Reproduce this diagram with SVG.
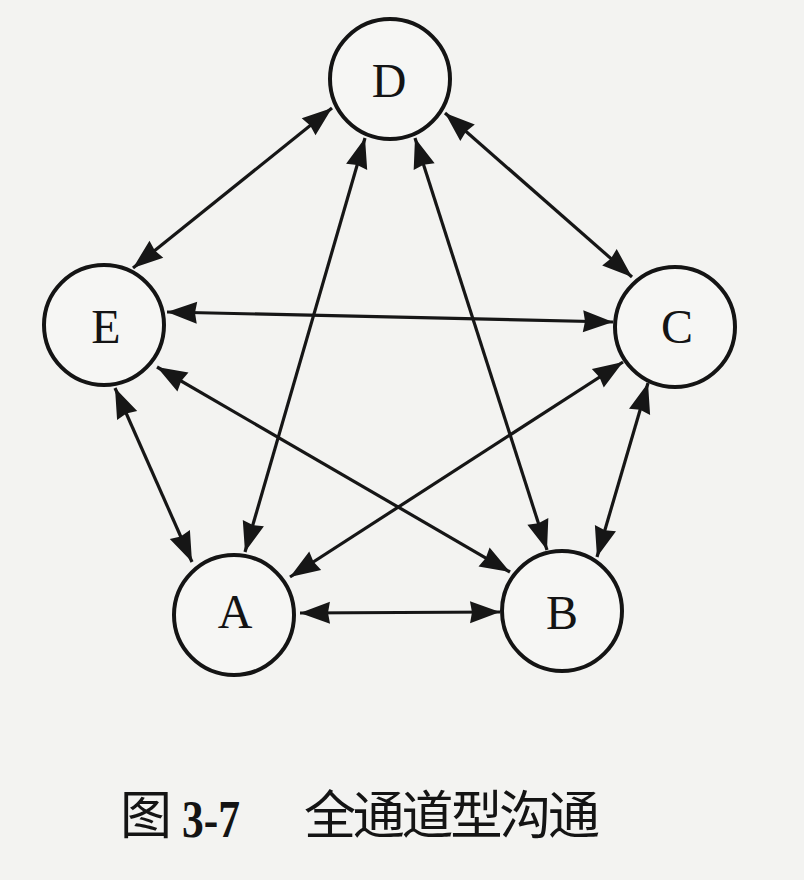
<svg xmlns="http://www.w3.org/2000/svg" width="804" height="880" viewBox="0 0 804 880">
  <defs>
    <marker id="ah" markerUnits="userSpaceOnUse" markerWidth="36" markerHeight="28" viewBox="-33 -14 36 28" refX="0" refY="0" orient="auto-start-reverse">
      <path d="M0,0 L-30,-11 L-28,0 L-30,11 Z" fill="#161616"/>
    </marker>
    <style>
      .node circle { fill: #f6f6f4; stroke: #141414; stroke-width: 4; }
      .node text { font-family: "Liberation Serif", "Times New Roman", serif; font-size: 48px; fill: #141414; text-anchor: middle; }
      #edges line { stroke: #161616; stroke-width: 3.2; marker-start: url(#ah); marker-end: url(#ah); }
      .cap { font-family: "Noto Sans CJK SC", "Noto Sans", sans-serif; font-size: 52px; fill: #141414; }
      .num { font-family: "Liberation Serif", serif; font-weight: bold; font-size: 52px; fill: #141414; }
    </style>
  </defs>
  <rect x="0" y="0" width="804" height="880" fill="#f3f3f1"/>
  <g id="edges">
    <line x1="332" y1="108" x2="133" y2="268"/>
    <line x1="445" y1="113" x2="632" y2="277"/>
    <line x1="167" y1="312" x2="613" y2="322"/>
    <line x1="365" y1="138" x2="245" y2="552"/>
    <line x1="415" y1="138" x2="547" y2="550"/>
    <line x1="157" y1="367" x2="510" y2="572"/>
    <line x1="623" y1="362" x2="290" y2="577"/>
    <line x1="115" y1="388" x2="192" y2="562"/>
    <line x1="648" y1="383" x2="597" y2="557"/>
    <line x1="300" y1="613" x2="500" y2="612"/>
  </g>
  <g id="D" class="node"><circle cx="390" cy="79" r="60"/><text x="389" y="97">D</text></g>
  <g id="E" class="node"><circle cx="104" cy="325" r="60"/><text x="106" y="343">E</text></g>
  <g id="C" class="node"><circle cx="675" cy="327" r="60"/><text x="677" y="343">C</text></g>
  <g id="A" class="node"><circle cx="234" cy="615" r="60"/><text x="235" y="628">A</text></g>
  <g id="B" class="node"><circle cx="562" cy="611" r="60"/><text x="562" y="629">B</text></g>
  <g id="caption">
    <text class="cap" x="120" y="834">图</text>
    <text class="num" x="182" y="837" textLength="58" lengthAdjust="spacingAndGlyphs">3-7</text>
    <text class="cap" x="304" y="834" textLength="296" lengthAdjust="spacing">全通道型沟通</text>
  </g>
</svg>
